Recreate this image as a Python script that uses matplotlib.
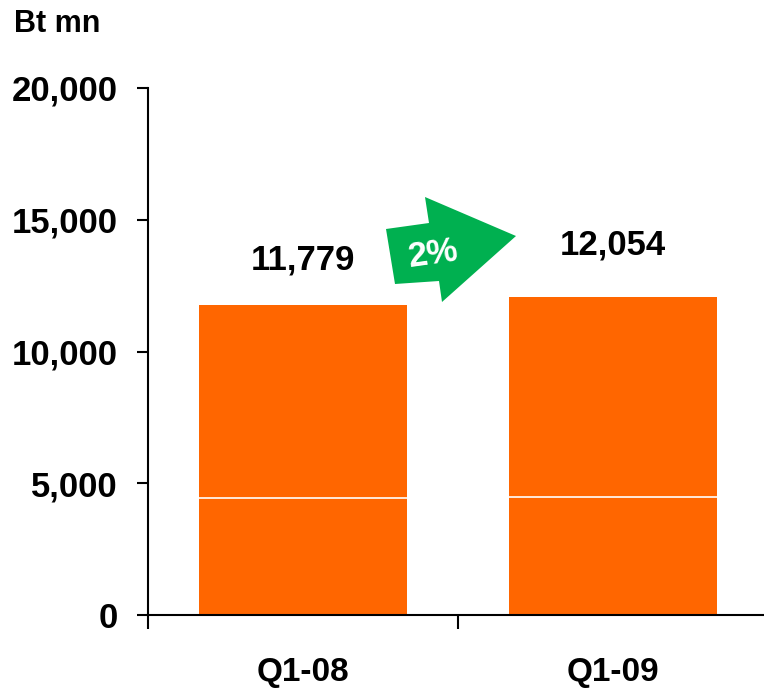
import matplotlib
matplotlib.use("Agg")
import matplotlib.pyplot as plt
from matplotlib.patches import Polygon
import numpy as np

plt.rcParams['font.family'] = ['Liberation Sans', 'DejaVu Sans']
plt.rcParams['font.weight'] = 'bold'

# revenue per quarter, Bt mn (stacked: base part + rest)
quarters = ['Q1-08', 'Q1-09']
totals = [11779, 12054]
base_part = [4450, 4460]
growth_label = '2%'

ORANGE = '#FF6600'
GREEN = '#00B050'

W, H = 764, 690
fig = plt.figure(figsize=(W / 100, H / 100), dpi=100)
ax = fig.add_axes([148 / W, 75 / H, 620 / W, 527 / H])

x = np.arange(len(quarters))
rest = [t - b for t, b in zip(totals, base_part)]
ax.bar(x, base_part, 0.67, color=ORANGE, edgecolor='none')
ax.bar(x, rest, 0.67, bottom=base_part, color=ORANGE, edgecolor='none')
# thin white seam between the two stacked parts
for xi, b in zip(x, base_part):
    ax.plot([xi - 0.335, xi + 0.335], [b, b], color='white', lw=1.2)

ax.set_xlim(-0.5, 1.5)
ax.set_ylim(0, 20000)
ax.set_yticks(np.arange(0, 20001, 5000))
ax.set_yticklabels([f'{v:,}' for v in range(0, 20001, 5000)], fontsize=25, fontweight='bold')
ax.tick_params(axis='y', direction='out', length=8, width=1.5, pad=14)

# category labels in the middle, ticks on the boundaries
ax.set_xticks([-0.5, 0.5, 1.5])
ax.set_xticklabels([])
ax.tick_params(axis='x', direction='out', length=10, width=1.5)
for xi, q in zip(x, quarters):
    ax.annotate(q, (xi, 0), xytext=(0, -30), textcoords='offset points',
                ha='center', va='top', fontsize=24, fontweight='bold')

for sp in ['top', 'right']:
    ax.spines[sp].set_visible(False)
for sp in ['left', 'bottom']:
    ax.spines[sp].set_linewidth(1.5)

offsets = [32, 38]
for xi, t, off in zip(x, totals, offsets):
    ax.annotate(f'{t:,}', (xi, t), xytext=(0, off), textcoords='offset points',
                ha='center', va='center', fontsize=25, fontweight='bold')

fig.text(14 / W, 1 - 24 / H, 'Bt mn', fontsize=22, fontweight='bold', va='center', ha='left')

# growth arrow between the bars
arrow_px = [(386, 229), (429, 223), (425, 197), (516, 236),
            (442, 302), (439, 281), (395, 284)]
arrow_fig = [(px / W, 1 - py / H) for px, py in arrow_px]
fig.patches.append(Polygon(arrow_fig, closed=True, transform=fig.transFigure,
                           facecolor=GREEN, edgecolor='none'))
fig.text(433 / W, 1 - 254 / H, growth_label, color='white', fontsize=25,
         fontweight='bold', rotation=8, ha='center', va='center')

fig.savefig('out.png', dpi=100)
